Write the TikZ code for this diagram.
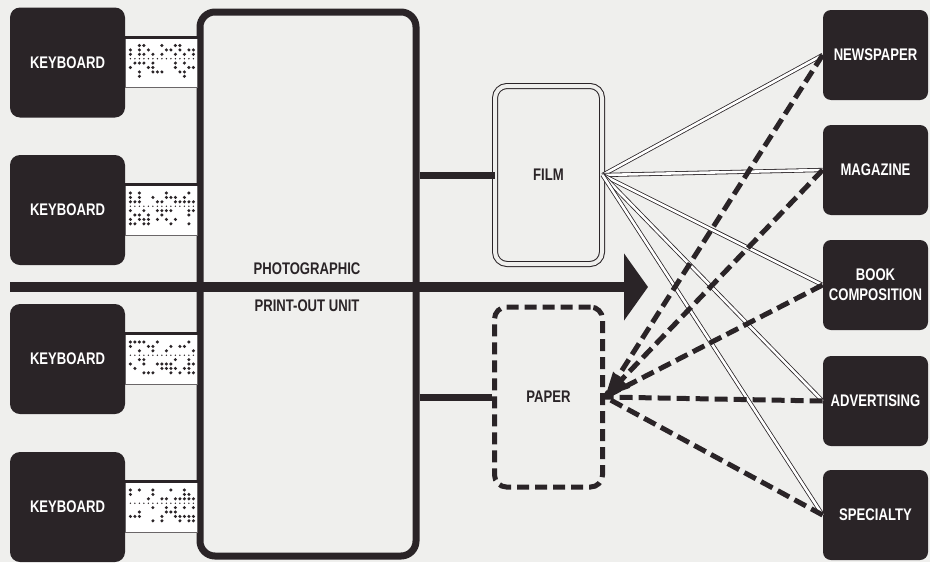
\documentclass[tikz,border=0pt]{standalone}
\usepackage{fontspec}
\newfontfamily\condfont[FakeStretch=0.78]{Liberation Sans}
\usetikzlibrary{positioning,arrows.meta}
\definecolor{ink}{RGB}{42,36,39}
\definecolor{paperbg}{RGB}{239,239,237}

\begin{document}
\begin{tikzpicture}[
    x=0.5pt, y=-0.5pt,
    every node/.style={font=\condfont\bfseries\fontsize{8.4}{9.8}\selectfont, text=ink},
    kbd/.style={rectangle,rounded corners=5pt,fill=ink,text=white,minimum width=57.5pt,minimum height=55pt,inner sep=0pt},
    outlet/.style={rectangle,rounded corners=4pt,fill=ink,text=white,minimum width=52.5pt,minimum height=45pt,align=center,inner sep=0pt},
    tape/.style={rectangle,fill=white,draw=ink!70,line width=0.4pt,minimum width=36pt,minimum height=25pt,inner sep=0pt},
    unitbox/.style={rectangle,rounded corners=7.5pt,draw=ink,line width=3.5pt,fill=paperbg,minimum width=108pt,minimum height=272pt},
    filmbox/.style={rectangle,rounded corners=6pt,draw=ink,line width=0.5pt,double=paperbg,double distance=2pt,minimum width=53.5pt,minimum height=89pt},
    paperbox/.style={rectangle,rounded corners=6pt,draw=ink,line width=2.5pt,dash pattern=on 6pt off 3pt,minimum width=54pt,minimum height=90pt},
    feed/.style={draw=ink,line width=3.5pt},
    filmline/.style={draw=ink,line width=0.4pt,double=white,double distance=1.3pt},
    paperline/.style={draw=ink,line width=2.5pt,dash pattern=on 6.5pt off 3pt},
    hole/.style={fill=ink}
]

\path[use as bounding box,fill=paperbg] (0,0) rectangle (930,562);

% print-out unit
\node[unitbox] (unit) at (308,284) {};

% keyboards and their tapes
\pgfmathsetseed{7}
\foreach \i/\y in {1/62.5,2/210,3/359,4/507} {
    \node[kbd] (kb\i) at (67.5,\y) {KEYBOARD};
    \node[tape,right=0pt of kb\i] (tape\i) {};
    \draw[ink,line width=1.5pt] (tape\i.north west) -- (tape\i.north east);
    \begin{scope}[shift={(tape\i.west)}]
        \foreach \c in {0,...,14} {
            \foreach \r in {-17,-12.6,-8.2,0.6,5,9.4,13.8} {
                \pgfmathparse{int(rnd<0.38)}
                \ifnum\pgfmathresult=1 \fill[hole] (5+4.5*\c,\r) circle[radius=0.85pt];\fi
            }
            \fill[hole] (5+4.5*\c,-3.8) circle[radius=0.4pt];
        }
    \end{scope}
}

% main flow
\coordinate (flowstart) at (10,287);
\coordinate (flowend) at (648,287);
\draw[ink,line width=5pt,-{Triangle[length=12pt,width=33pt]}] (flowstart) -- (flowend);

\node (unitname1) at (307,269) {PHOTOGRAPHIC};
\node (unitname2) at (307,306) {PRINT-OUT UNIT};

% outputs
\node[filmbox] (film) at (548.5,175) {FILM};
\node[paperbox] (paper) at (548.5,397) {PAPER};

\draw[feed] (unit.east |- film.west) -- (film.west);
\draw[feed] (unit.east |- paper.west) -- (paper.west);

% users
\node[outlet] (news) at (875.5,55) {NEWSPAPER};
\node[outlet] (mag) at (875.5,170) {MAGAZINE};
\node[outlet] (book) at (875.5,285) {BOOK\\COMPOSITION};
\node[outlet] (adv) at (875.5,401) {ADVERTISING};
\node[outlet] (spec) at (875.5,515) {SPECIALTY};

\foreach \n in {news,mag,book,adv,spec}
    \draw[filmline] (film.east) -- (\n.west);

\foreach \n in {news,book,adv,spec}
    \draw[paperline] (\n.west) -- (paper.east);
\draw[paperline,-{Triangle[length=12pt,width=11pt]}] (mag.west) -- (paper.east);

\end{tikzpicture}
\end{document}
